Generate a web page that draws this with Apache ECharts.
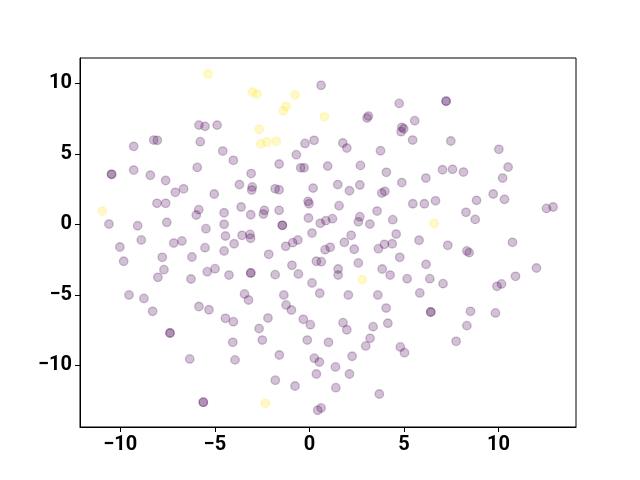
<!DOCTYPE html>
<html>
<head>
<meta charset="utf-8">
<script src="https://cdn.jsdelivr.net/npm/echarts@6/dist/echarts.min.js"></script>
<style>html,body{margin:0;padding:0;background:#fff}#c{width:640px;height:480px}</style>
</head>
<body>
<div id="c"></div>
<script>
// Class 0 (purple) points: x values and y values
var purpleX = [
-5.84,-5.52,-4.88,-8.23,-8.04,-9.29,-5.77,-4.58,-4.02,-5.93,-10.46,-10.46,-9.29,-8.41,-7.60,-3.70,-3.08,
0.62,4.75,3.12,3.05,5.57,4.89,4.99,4.85,5.46,0.25,-0.23,1.77,1.98,3.76,-0.69,-1.60,-0.46,-0.28,0.97,2.70,4.07,1.50,2.67,4.89,
7.23,7.23,7.48,10.02,10.51,10.22,7.04,7.57,8.15,6.16,
-10.60,-9.08,-8.89,-10.02,-9.82,-8.06,-7.60,-7.09,-6.65,-5.03,-7.54,-5.85,-5.98,-4.51,-3.61,-4.51,-5.47,-4.44,-3.56,-3.98,-7.17,-6.74,-5.52,-4.51,-7.78,-6.21,-7.69,-8.01,-5.40,-4.99,-6.26,-4.25,-9.54,-8.75,-5.84,-3.43,-3.22,-3.14,-3.11,
-3.02,-3.05,-1.81,-1.60,0.20,2.12,3.83,3.99,5.47,-0.07,-0.02,1.57,-3.10,-2.38,-2.43,-1.60,-0.05,0.58,0.87,1.22,2.67,2.59,3.20,3.58,4.41,-1.43,-1.43,0.14,-1.25,-0.88,-0.61,-2.15,0.83,1.10,1.85,2.21,2.37,3.65,3.97,4.38,4.59,4.78,0.37,0.63,2.59,1.52,1.52,-3.10,-3.10,-0.92,-0.58,-1.81,3.85,4.27,5.17,0.14,0.55,2.06,3.62,-1.35,-1.23,
6.08,6.67,8.84,9.72,10.32,8.28,8.77,12.54,12.89,5.80,7.32,8.33,8.45,10.74,6.17,6.37,7.07,5.84,9.92,10.16,10.90,12.01,
-8.29,-5.31,-4.44,-4.02,-7.37,-7.37,-4.05,-6.33,-3.93,-5.61,-5.61,
-0.95,-2.19,-0.32,0.05,-2.66,-2.49,-0.11,1.01,1.78,1.98,3.37,4.15,4.06,3.21,2.98,4.81,5.03,-1.59,0.26,0.53,2.26,1.38,2.12,0.37,-1.80,-0.76,1.40,3.70,0.62,0.44,
6.42,6.42,8.52,9.84,8.33,7.76
];
var purpleY = [
7.04,6.95,7.04,5.98,5.96,5.53,5.86,5.20,4.54,4.04,3.55,3.55,3.85,3.48,3.11,2.82,3.60,
9.86,8.58,7.68,7.54,7.35,6.88,6.78,6.57,5.98,5.96,5.74,5.77,5.41,5.22,4.94,4.28,4.01,4.01,4.13,4.18,3.69,2.82,2.79,2.96,
8.74,8.74,5.91,5.32,4.06,3.28,3.87,3.90,3.71,3.28,
0.02,-0.10,-1.11,-1.61,-2.62,1.49,1.49,2.27,2.52,2.15,0.14,1.04,0.66,0.82,1.23,0.00,-0.31,-0.83,-0.78,-1.38,-1.33,-1.18,-1.66,-1.89,-2.34,-2.32,-3.22,-3.76,-3.36,-3.15,-3.88,-3.60,-5.01,-5.26,-5.83,-4.94,-5.37,-0.72,-0.99,
2.65,2.43,2.52,2.45,2.57,2.38,2.22,2.34,1.46,1.63,1.46,1.32,0.68,0.99,0.73,0.99,0.45,0.07,0.26,0.40,0.54,0.18,0.02,0.94,0.33,-0.07,-0.07,-0.62,-1.56,-1.30,-1.11,-2.13,-1.80,-1.63,-1.28,-0.78,-1.77,-1.73,-1.42,-1.38,-0.69,-2.34,-2.62,-2.65,-2.74,-3.17,-3.60,-3.45,-3.45,-2.91,-3.52,-3.57,-3.17,-3.60,-3.86,-4.16,-4.89,-5.01,-5.01,-5.01,-5.72,
1.46,1.67,1.70,2.15,1.77,0.85,0.35,1.13,1.23,-1.13,-1.49,-1.89,-2.01,-1.28,-2.84,-3.86,-4.21,-4.87,-4.40,-4.23,-3.69,-3.10,
-6.17,-6.06,-6.67,-6.91,-7.71,-7.71,-8.37,-9.55,-9.62,-12.62,-12.62,
-6.08,-6.65,-6.74,-7.12,-7.40,-8.21,-8.21,-8.37,-6.98,-7.48,-7.26,-7.02,-5.94,-8.09,-8.63,-8.70,-9.11,-9.27,-9.50,-9.77,-9.36,-10.12,-10.62,-10.62,-11.06,-11.47,-11.59,-12.04,-13.03,-13.19,
-6.22,-6.22,-6.17,-6.29,-7.19,-8.30
];
// Class 1 (yellow) points
var yellowX = [-5.36,-3.02,-2.77,-0.76,-1.23,-1.38,0.79,-2.66,-2.57,-2.25,-1.75,-10.95,6.60,2.80,-2.33];
var yellowY = [10.66,9.38,9.24,9.17,8.37,8.06,7.63,6.74,5.70,5.84,5.89,0.94,0.07,-3.93,-12.70];
// Tick labels
var xTicks = [-10, -5, 0, 5, 10];
var yTicks = [-10, -5, 0, 5, 10];

function pairs(xs, ys) { return xs.map(function (x, i) { return [x, ys[i]]; }); }
function fmt(v) { return (v < 0 ? '\u2212' : '') + Math.abs(v); }

var labelStyle = { fontFamily: 'Roboto', fontWeight: 'bold', fontSize: 20, color: '#000' };
function axis(min, max, ticks) {
  return {
    type: 'value', min: min, max: max,
    axisLine: { show: true, onZero: false, lineStyle: { color: '#000', width: 1 } },
    axisTick: { show: true, inside: false, length: 5, customValues: ticks, lineStyle: { color: '#000', width: 1 } },
    axisLabel: Object.assign({ margin: 8, customValues: ticks, formatter: fmt }, labelStyle),
    splitLine: { show: false }
  };
}

var chart = echarts.init(document.getElementById('c'), null, { renderer: 'canvas' });
chart.setOption({
  backgroundColor: '#fff',
  animation: false,
  grid: { left: 80, right: 64, top: 58, bottom: 53, show: true, borderColor: '#000', borderWidth: 1, backgroundColor: 'transparent' },
  xAxis: axis(-12.13, 14.1, xTicks),
  yAxis: axis(-14.38, 11.8, yTicks),
  series: [
    {
      type: 'scatter', data: pairs(purpleX, purpleY), symbolSize: 8.5,
      itemStyle: { color: 'rgba(68,1,84,0.3)', borderColor: 'rgba(68,1,84,0.3)', borderWidth: 1.3 }
    },
    {
      type: 'scatter', data: pairs(yellowX, yellowY), symbolSize: 8.5,
      itemStyle: { color: 'rgba(253,231,37,0.3)', borderColor: 'rgba(253,231,37,0.3)', borderWidth: 1.3 }
    }
  ]
});
</script>
</body>
</html>
